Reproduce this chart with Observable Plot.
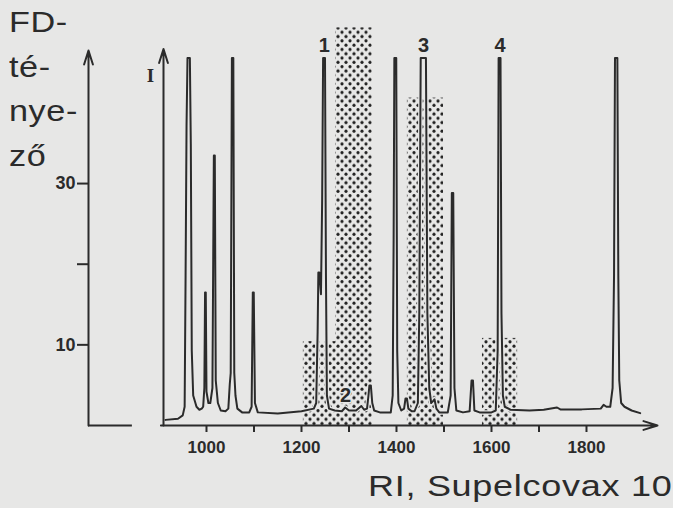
<!DOCTYPE html>
<html><head><meta charset="utf-8">
<script src="https://cdn.jsdelivr.net/npm/d3@7"></script>
<script src="https://cdn.jsdelivr.net/npm/@observablehq/plot@0.6"></script>
<style>
html,body{margin:0;padding:0;background:#e7e7e6;}
#wrap{position:relative;width:673px;height:508px;overflow:hidden;font-family:"Liberation Sans",Arial,sans-serif;color:#2b2b2b;}
#wrap svg{position:absolute;left:0;top:0;}
#ylab{position:absolute;left:9px;top:0;font-size:29px;line-height:44.7px;letter-spacing:0.5px;transform:scaleX(1.18);transform-origin:0 0;}
#xlab{position:absolute;left:368px;top:471px;font-size:30px;line-height:30px;letter-spacing:0.6px;white-space:nowrap;transform:scaleX(1.2);transform-origin:0 0;}
</style></head><body>
<div id="wrap"></div>
<script>
// ---------- data ----------
// FD (flavour dilution) factor bars, RI ranges on Supelcowax 10
const fdStartRI = [1204, 1272, 1423, 1581];
const fdEndRI   = [1272, 1349, 1499, 1655];
const fdValue   = [10.4, 49.3, 40.6, 10.8];

// chromatogram trace (RI, relative intensity 0-100)
const chromRI = [913.7, 940, 950, 954, 956, 958, 960, 965, 967, 969, 972, 979, 985, 990,
  993, 995.5, 997, 998.5, 1000, 1004, 1008, 1012.5, 1015.5, 1017.5, 1019.5, 1024, 1030,
  1040, 1046, 1049, 1051, 1053.5, 1056.5, 1058.5, 1061, 1065, 1075, 1090, 1095, 1097.5, 1099.5, 1102, 1108,
  1150, 1200, 1226, 1231, 1234, 1235.5, 1237.5, 1241, 1243.5, 1245.5, 1249.5, 1251.5, 1253.5, 1258, 1270,
  1285, 1292, 1300, 1315, 1326, 1332, 1338, 1341, 1343, 1346, 1349, 1353, 1365,
  1388, 1392, 1394, 1395.5, 1399.5, 1401.5, 1404, 1410, 1416, 1419, 1422, 1425, 1432,
  1438, 1445, 1448, 1451, 1462, 1465, 1469, 1473, 1477, 1480, 1484, 1490,
  1508, 1514, 1516.5, 1519.5, 1522, 1526, 1540, 1554, 1558, 1561, 1564, 1575,
  1600, 1609, 1613, 1615, 1619, 1621, 1624, 1628, 1640, 1680, 1710, 1738, 1745, 1790,
  1830, 1836, 1842, 1850, 1855, 1858, 1860, 1865, 1867, 1869, 1873, 1880, 1895, 1913];
const chromI = [1.5, 1.8, 2.7, 5, 40, 80, 98, 98, 75, 20, 8, 5, 4.2, 4.5,
  5, 10, 35.5, 35.5, 9, 6, 6, 10, 72, 72, 12, 6, 4,
  3.8, 4.5, 11, 14, 98, 98, 14, 8, 4.5, 3.5, 3.5, 5, 35.5, 35.5, 6, 3.5,
  3.2, 3.8, 4.5, 6, 25, 40.8, 40.8, 35, 60, 98, 98, 40, 8, 4.5, 4,
  3.8, 4.8, 4, 4, 5.2, 4.2, 4.5, 8, 10.7, 10.7, 6, 4, 3.5,
  3.5, 8, 50, 98, 98, 20, 6, 4, 4.5, 7.2, 7.2, 4.5, 3.8,
  3.8, 6, 30, 98, 98, 30, 10, 6, 6.5, 7, 4.5, 3.5,
  3.5, 8, 62, 62, 10, 4, 3.5, 3.8, 12, 12, 4, 3.5,
  3.5, 4, 20, 98, 98, 30, 8, 5, 4.2, 4, 4.2, 4.8, 4.3, 4.3,
  4.5, 5.5, 5, 5, 10, 40, 98, 98, 40, 12, 6, 5, 4, 3.3];

// peak / zone labels
const peakLabels = ["1", "2", "3", "4"];
const peakLabelRI = [1248, 1293, 1457, 1618];
const peakLabelI = [101.2, 8, 101.2, 101.2];

// tick labels
const xTicks = [1000, 1100, 1200, 1300, 1400, 1500, 1600, 1700, 1800];
const xTickLabels = ["1000", "", "1200", "", "1400", "", "1600", "", "1800"];
const fdTicks = [10, 20, 30];
const fdTickLabels = ["10", "", "30"];

const yTitleLines = ["FD-", "té-", "nye-", "ző"];
const xTitle = "RI, Supelcovax 10";
const intensityLabel = "I";

// ---------- scales & decorations ----------
const xDomain = [751.6, 1949.5];
const fdDomain = [0, 46.5];
const iDomain = [0, 100];
const fdStubEndRI = 844;
const iAxisRI = 909.5;
const xAxisStartRI = 904;
const iAxisTop = 100.4;

const ink = "#2b2b2b";
const bg = "#e7e7e6";

const common = {
  width: 673, height: 508,
  marginLeft: 88, marginRight: 16, marginTop: 50, marginBottom: 83,
  style: {background: "transparent", overflow: "visible",
          fontFamily: "'Liberation Sans', Arial, sans-serif", color: ink}
};

const bars = fdValue.map((v, i) => ({x1: fdStartRI[i], x2: fdEndRI[i], fd: v}));
const chrom = chromRI.map((r, i) => ({ri: r, i: chromI[i]}));
const labels = peakLabels.map((t, k) => ({t, ri: peakLabelRI[k], i: peakLabelI[k]}));

const p1 = Plot.plot({
  ...common,
  x: {domain: xDomain, axis: null},
  y: {domain: fdDomain, axis: null},
  marks: [
    Plot.rect(bars, {x1: "x1", x2: "x2", y1: 0, y2: "fd", fill: "url(#dots)", ariaLabel: "fdbars"}),
    Plot.axisY({ticks: fdTicks, tickFormat: d => fdTickLabels[fdTicks.indexOf(d)],
      tickSize: 11, tickPadding: 2, fontSize: 18, fontWeight: "bold", strokeWidth: 2, label: null}),
    Plot.arrow([{x: xDomain[0], a: 0, b: fdDomain[1]}],
      {x1: "x", x2: "x", y1: "a", y2: "b", stroke: ink, strokeWidth: 2, headLength: 11, headAngle: 35}),
    Plot.ruleY([0], {x1: xDomain[0], x2: fdStubEndRI, stroke: ink, strokeWidth: 2})
  ]
});

const p2 = Plot.plot({
  ...common,
  x: {domain: xDomain, axis: null},
  y: {domain: iDomain, axis: null},
  marks: [
    Plot.line(chrom, {x: "ri", y: "i", stroke: bg, strokeWidth: 4.5, strokeLinejoin: "round"}),
    Plot.line(chrom, {x: "ri", y: "i", stroke: ink, strokeWidth: 2, strokeLinejoin: "round"}),
    Plot.axisX({ticks: xTicks, tickFormat: d => xTickLabels[xTicks.indexOf(d)],
      tickSize: 7, tickPadding: 8, fontSize: 17, fontWeight: "bold", strokeWidth: 2, label: null}),
    Plot.arrow([{a: xAxisStartRI, b: xDomain[1], y: 0}],
      {x1: "a", x2: "b", y1: "y", y2: "y", stroke: ink, strokeWidth: 2, headLength: 11, headAngle: 35}),
    Plot.arrow([{x: iAxisRI, a: 0, b: iAxisTop}],
      {x1: "x", x2: "x", y1: "a", y2: "b", stroke: ink, strokeWidth: 2, headLength: 11, headAngle: 35}),
    Plot.text([intensityLabel], {x: iAxisRI, y: 93.3, text: d => d, dx: -13,
      fontFamily: "'Liberation Serif', serif", fontWeight: "bold", fontSize: 19, fill: ink}),
    Plot.text(labels, {x: "ri", y: "i", text: "t", fontSize: 20, fontWeight: "bold", fill: ink,
      stroke: bg, strokeWidth: 3, paintOrder: "stroke"})
  ]
});

const wrap = document.getElementById("wrap");
wrap.appendChild(p1);
wrap.appendChild(p2);

// dotted fill pattern for FD bars
const defs = d3.select(p1).insert("defs", ":first-child");
const pat = defs.append("pattern").attr("id", "dots").attr("patternUnits", "userSpaceOnUse")
  .attr("width", 8).attr("height", 8.6);
pat.append("circle").attr("cx", 2).attr("cy", 2.15).attr("r", 1.6).attr("fill", "#222");
pat.append("circle").attr("cx", 6).attr("cy", 6.45).attr("r", 1.6).attr("fill", "#222");
d3.select(p1).selectAll('g[aria-label="fdbars"] rect').attr("fill", "url(#dots)");

const yl = document.createElement("div");
yl.id = "ylab";
yl.innerHTML = yTitleLines.join("<br>");
wrap.appendChild(yl);
const xl = document.createElement("div");
xl.id = "xlab";
xl.textContent = xTitle;
wrap.appendChild(xl);
</script>
</body></html>
